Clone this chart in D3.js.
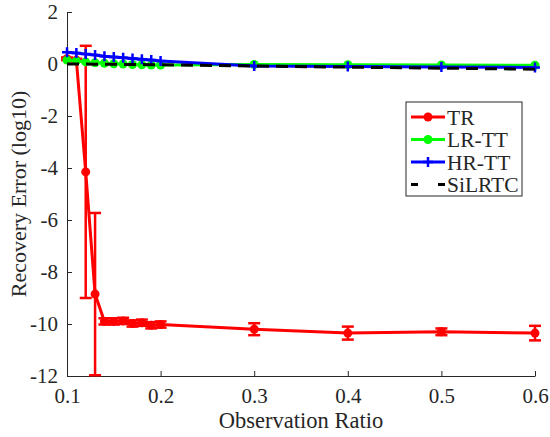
<!DOCTYPE html>
<html>
<head>
<meta charset="utf-8">
<script src="https://cdn.jsdelivr.net/npm/d3@7"></script>
<style>
  body { margin: 0; background: #fff; }
  text { font-family: "Liberation Serif", "DejaVu Serif", serif; fill: #262626; }
</style>
</head>
<body>
<figure id="chart" style="margin:0"></figure>
<script>
// observation ratios
const ratios = [0.1, 0.11, 0.12, 0.13, 0.14, 0.15, 0.16, 0.17, 0.18, 0.19, 0.2, 0.3, 0.4, 0.5, 0.6];

// recovery error (log10) per method
const trMean = [0.2, 0.15, -4.15, -8.85, -9.9, -9.9, -9.88, -9.98, -9.95, -10.05, -10.02, -10.2, -10.35, -10.3, -10.35];
const trErr  = [0.05, 0.05, 4.85, 3.12, 0.12, 0.12, 0.12, 0.12, 0.12, 0.12, 0.12, 0.23, 0.25, 0.13, 0.28];
const lrtt   = [0.15, 0.12, 0.08, 0.05, 0.03, 0.01, 0.0, -0.02, -0.03, -0.04, -0.04, -0.02, -0.03, -0.04, -0.05];
const hrtt   = [0.45, 0.42, 0.38, 0.35, 0.3, 0.27, 0.24, 0.21, 0.18, 0.15, 0.12, -0.08, -0.1, -0.12, -0.13];
const silrtc = [0.0, 0.0, 0.0, -0.01, -0.01, -0.01, -0.02, -0.02, -0.02, -0.03, -0.03, -0.08, -0.12, -0.16, -0.2];

const xTicks = [0.1, 0.2, 0.3, 0.4, 0.5, 0.6];
const yTicks = [2, 0, -2, -4, -6, -8, -10, -12];
const names = ["TR", "LR-TT", "HR-TT", "SiLRTC"];
const colors = ["#ff0000", "#00ff00", "#0000ff", "#000000"];

const width = 550, height = 437;
const mLeft = 67, mRight = 535, mTop = 12, mBottom = 376;

const svg = d3.select("figure#chart")
  .append("svg")
  .attr("width", width)
  .attr("height", height);

const x = d3.scaleLinear().domain([0.1, 0.6]).range([mLeft, mRight]);
const y = d3.scaleLinear().domain([-12, 2]).range([mBottom, mTop]);

svg.append("clipPath").attr("id", "clip")
  .append("rect")
  .attr("x", mLeft - 12).attr("y", mTop).attr("width", mRight - mLeft + 24).attr("height", mBottom - mTop + 1);

// axes
const xAxis = svg.append("g")
  .attr("transform", "translate(0," + mBottom + ")")
  .call(d3.axisBottom(x).tickValues(xTicks).tickSizeInner(-5).tickSizeOuter(0).tickPadding(12).tickFormat(d3.format("")));
const yAxis = svg.append("g")
  .attr("transform", "translate(" + mLeft + ",0)")
  .call(d3.axisLeft(y).tickValues(yTicks).tickSizeInner(-5).tickSizeOuter(0).tickPadding(10).tickFormat(d => String(d)));

[xAxis, yAxis].forEach(a => {
  a.select(".domain").attr("stroke", "#262626").attr("stroke-width", 1);
  a.selectAll(".tick line").attr("stroke", "#262626");
  a.selectAll(".tick text").style("font-size", "21px").style("font-family", "Liberation Serif").attr("fill", "#262626");
});
yAxis.selectAll(".tick text").attr("x", -9);

const plot = svg.append("g").attr("clip-path", "url(#clip)");

const line = d3.line().x((d, i) => x(ratios[i])).y(d => y(d));

// TR with error bars
const trData = trMean.map((m, i) => ({ r: ratios[i], m: m, e: trErr[i] }));
const bars = plot.append("g").attr("stroke", colors[0]).attr("stroke-width", 2.5);
bars.selectAll("line.v").data(trData).enter().append("line")
  .attr("x1", d => x(d.r)).attr("x2", d => x(d.r))
  .attr("y1", d => y(d.m + d.e)).attr("y2", d => y(d.m - d.e));
bars.selectAll("line.t").data(trData).enter().append("line")
  .attr("x1", d => x(d.r) - 6).attr("x2", d => x(d.r) + 6)
  .attr("y1", d => y(d.m + d.e)).attr("y2", d => y(d.m + d.e));
bars.selectAll("line.b").data(trData).enter().append("line")
  .attr("x1", d => x(d.r) - 6).attr("x2", d => x(d.r) + 6)
  .attr("y1", d => y(d.m - d.e)).attr("y2", d => y(d.m - d.e));

plot.append("path").datum(trMean)
  .attr("d", line).attr("fill", "none").attr("stroke", colors[0]).attr("stroke-width", 3);
plot.selectAll("circle.tr").data(trData).enter().append("circle")
  .attr("cx", d => x(d.r)).attr("cy", d => y(d.m)).attr("r", 4.5).attr("fill", colors[0]);

// LR-TT
plot.append("path").datum(lrtt)
  .attr("d", line).attr("fill", "none").attr("stroke", colors[1]).attr("stroke-width", 3);
plot.selectAll("circle.lr").data(lrtt).enter().append("circle")
  .attr("cx", (d, i) => x(ratios[i])).attr("cy", d => y(d)).attr("r", 4.5).attr("fill", colors[1]);

// HR-TT
plot.append("path").datum(hrtt)
  .attr("d", line).attr("fill", "none").attr("stroke", colors[2]).attr("stroke-width", 3);
plot.selectAll("path.plus").data(hrtt).enter().append("path")
  .attr("d", (d, i) => {
    const cx = x(ratios[i]), cy = y(d);
    return "M" + (cx - 5) + "," + cy + "H" + (cx + 5) + "M" + cx + "," + (cy - 5) + "V" + (cy + 5);
  })
  .attr("stroke", colors[2]).attr("stroke-width", 2.5).attr("fill", "none");

// SiLRTC
plot.append("path").datum(silrtc)
  .attr("d", line).attr("fill", "none").attr("stroke", colors[3]).attr("stroke-width", 3)
  .attr("stroke-dasharray", "12,7");

// legend
const lg = svg.append("g").attr("transform", "translate(406,102)");
lg.append("rect").attr("width", 116).attr("height", 94)
  .attr("fill", "#fff").attr("stroke", "#262626").attr("stroke-width", 1);
names.forEach((n, i) => {
  const cy = 15 + i * 22.5;
  const g = lg.append("g").attr("transform", "translate(0," + cy + ")");
  g.append("line").attr("x1", 5).attr("x2", 39).attr("y1", 0).attr("y2", 0)
    .attr("stroke", colors[i]).attr("stroke-width", 3)
    .attr("stroke-dasharray", i === 3 ? "7,20" : null);
  if (i < 2) g.append("circle").attr("cx", 22).attr("cy", 0).attr("r", 4.5).attr("fill", colors[i]);
  if (i === 2) g.append("path").attr("d", "M17,0H27M22,-5V5").attr("stroke", colors[i]).attr("stroke-width", 2.5);
  g.append("text").attr("x", 41).attr("y", 0).attr("dy", "0.35em")
    .style("font-size", "21.5px").text(n);
});

// axis titles
svg.append("text")
  .attr("x", (mLeft + mRight) / 2).attr("y", 428)
  .attr("text-anchor", "middle").style("font-size", "22.5px")
  .text("Observation Ratio");
svg.append("text")
  .attr("transform", "translate(26," + (mTop + mBottom) / 2 + ") rotate(-90)")
  .attr("text-anchor", "middle").style("font-size", "22px")
  .text("Recovery Error (log10)");
</script>
</body>
</html>
